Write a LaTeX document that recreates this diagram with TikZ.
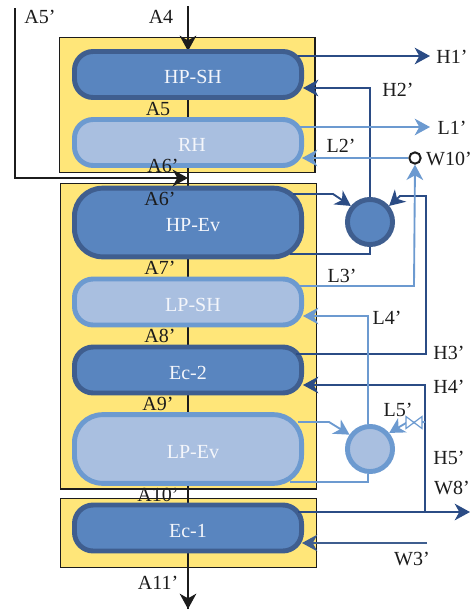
\documentclass[tikz,border=0pt]{standalone}
\usepackage{fontspec}
\setmainfont{Liberation Serif}
\usetikzlibrary{arrows.meta}
\definecolor{yel}{HTML}{FFE679}
\definecolor{darkfill}{HTML}{5985BF}
\definecolor{darkedge}{HTML}{3F5E8F}
\definecolor{lightfill}{HTML}{A9BFE0}
\definecolor{lightedge}{HTML}{6C9AD0}
\definecolor{darkline}{HTML}{2B4C85}
\definecolor{ink}{HTML}{1C1C1C}
\definecolor{blocktext}{HTML}{F4F6FB}
\newcommand{\blocklabel}[2]{\hspace{#1}\raisebox{-1.8pt}[10pt][0pt]{#2}}
\tikzset{
  x=0.75pt,y=-0.75pt,
  casing/.style={draw=ink,line width=1.1pt,fill=yel},
  blockd/.style={draw=darkedge,fill=darkfill,line width=3.7pt,text=blocktext,minimum width=170.3pt,font=\fontsize{15}{17}\selectfont,inner sep=0pt},
  blockl/.style={draw=lightedge,fill=lightfill,line width=3.7pt,text=blocktext,minimum width=170.3pt,font=\fontsize{15}{17}\selectfont,inner sep=0pt},
  drumd/.style={circle,draw=darkedge,fill=darkfill,line width=3.7pt,minimum size=33.8pt,inner sep=0pt},
  druml/.style={circle,draw=lightedge,fill=lightfill,line width=3.7pt,minimum size=33.8pt,inner sep=0pt},
  lab/.style={text=ink,font=\fontsize{15}{17}\selectfont,inner sep=0pt},
  tip/.style={-{Stealth[length=11.5pt,width=12.5pt,inset=3.5pt]}},
  gasline/.style={draw=ink,line width=1.1pt},
  gasthick/.style={draw=ink,line width=1.8pt},
  hp/.style={draw=darkline,line width=1.4pt},
  lp/.style={draw=lightedge,line width=1.4pt},
}
\begin{document}
\begin{tikzpicture}
\useasboundingbox (0,0) rectangle (474,612);
% casings
\node[casing,rectangle,minimum width=191.8pt,minimum height=101pt,inner sep=0pt,anchor=north west] (case1) at (58.5,37) {};
\node[casing,rectangle,minimum width=191.8pt,minimum height=229pt,inner sep=0pt,anchor=north west] (case2) at (60,183) {};
\node[casing,rectangle,minimum width=191.8pt,minimum height=51.5pt,inner sep=0pt,anchor=north west] (case3) at (60,498) {};
% free ends
\coordinate (gasin) at (188,6);
\coordinate (gasout) at (188,609);
\coordinate (bypass) at (15,8);
\coordinate (H1) at (430,56);
\coordinate (L1) at (430,127);
\coordinate (W8) at (470,512);
\coordinate (W3) at (427,543);
% gas axis
\draw[gasline] (gasin) -- (gasout);
\draw[gasline,tip] (gasin) -- (case1.north -| gasin) -- +(0,14);
\draw[gasline,tip] (case3.south -| gasout) -- (gasout);
% blocks
\node[blockd,minimum height=34.5pt,rounded corners=14pt] (hpsh) at (188,74.5) {\blocklabel{7.5pt}{HP-SH}};
\node[blockl,minimum height=34.5pt,rounded corners=14pt] (rh) at (188,142.5) {\blocklabel{6pt}{RH}};
\node[blockd,minimum height=51.5pt,rounded corners=21pt] (hpev) at (188,222.5) {\blocklabel{7.5pt}{HP-Ev}};
\node[blockl,minimum height=34.5pt,rounded corners=14pt] (lpsh) at (188,302) {\blocklabel{7.5pt}{LP-SH}};
\node[blockd,minimum height=34.5pt,rounded corners=14pt] (ec2) at (188,370) {\blocklabel{0pt}{Ec-2}};
\node[blockl,minimum height=51.5pt,rounded corners=21pt] (lpev) at (188,449) {\blocklabel{7.5pt}{LP-Ev}};
\node[blockd,minimum height=34.5pt,rounded corners=14pt] (ec1) at (188,528) {\blocklabel{0pt}{Ec-1}};
% drums
\node[drumd] (drum1) at (370,222) {};
\node[druml] (drum2) at (370,449) {};
% bypass gas
\coordinate (gasjoin) at (188,178);
\draw[gasthick,tip] (bypass) |- (gasjoin);
% W10 point
\node[circle,draw=ink,fill=white,line width=1.5pt,minimum size=8.5pt,inner sep=0pt] (w10) at (415,158) {};
% valve
\coordinate (valve) at (406,423);
% high pressure lines
\draw[hp,tip] ([shift={(-6,-18.5)}]hpsh.east) -- (H1);
\draw[hp,tip] (drum1.north) -- (370,88) -- ([shift={(-1,13.5)}]hpsh.east);
\draw[hp,tip] ([shift={(-11,-28.5)}]hpev.east) -- (333,194) -- (drum1.140);
\draw[hp] (drum1.south) -- (370,254) -- ([shift={(-14,31.5)}]hpev.east);
\draw[hp,tip] ([shift={(-8,-16)}]ec2.east) -- (426,354) -- (426,196) -- (400,196) -- (drum1.40);
\draw[hp,tip] (425,512) -- (425,385) -- ([shift={(-1,15)}]ec2.east);
\draw[hp,tip] ([shift={(-6,-16)}]ec1.east) -- (W8);
\draw[hp,tip,draw=darkedge] (W3) -- ([shift={(-2,15)}]ec1.east);
% low pressure lines
\draw[lp,tip] ([shift={(-4,-15.5)}]rh.east) -- (L1);
\draw[lp,tip] (w10.west) -- ([shift={(-2,15.5)}]rh.east);
\draw[lp,tip] ([shift={(-4,-16)}]lpsh.east) -- (414,286) -- (w10.south);
\draw[lp,tip] ([xshift=-1.5pt]drum2.north) -- (368,316) -- ([shift={(-1,14)}]lpsh.east);
\draw[lp,tip] ([shift={(-6,-27)}]lpev.east) -- (329,422) -- (drum2.145);
\draw[lp] ([xshift=-1.5pt]drum2.south) -- (368,482) -- ([shift={(-14,33)}]lpev.east);
\draw[lp,tip] (425,422) -- (valve) -- (drum2.40);
\draw[draw=lightedge,line width=0.9pt,fill=white] (406,416.5) -- (422,428.5) -- (422,416.5) -- (406,428.5) -- cycle;
% labels
\node[lab] (tA5p) at (40,17) {A5’};
\node[lab] (tA4) at (161,17) {A4};
\node[lab] (tA5) at (158,109) {A5};
\node[lab] (tA6) at (163,166) {A6’};
\node[lab] (tA6p) at (160,199) {A6’};
\node[lab] (tA7) at (160,268) {A7’};
\node[lab] (tA8) at (160,336) {A8’};
\node[lab] (tA9) at (158,404) {A9’};
\node[lab] (tA10) at (158,495) {A10’};
\node[lab] (tA11) at (158,583) {A11’};
\node[lab] (tH1) at (452,57) {H1’};
\node[lab] (tH2) at (398,90) {H2’};
\node[lab] (tL1) at (452,128) {L1’};
\node[lab] (tL2) at (341,146) {L2’};
\node[lab] (tW10) at (449,159) {W10’};
\node[lab] (tL3) at (342,276) {L3’};
\node[lab] (tL4) at (387,318) {L4’};
\node[lab] (tH3) at (449,353) {H3’};
\node[lab] (tH4) at (449,387) {H4’};
\node[lab] (tL5) at (398,410) {L5’};
\node[lab] (tH5) at (449,458) {H5’};
\node[lab] (tW8) at (452,488) {W8’};
\node[lab] (tW3) at (412,559) {W3’};
\end{tikzpicture}
\end{document}
